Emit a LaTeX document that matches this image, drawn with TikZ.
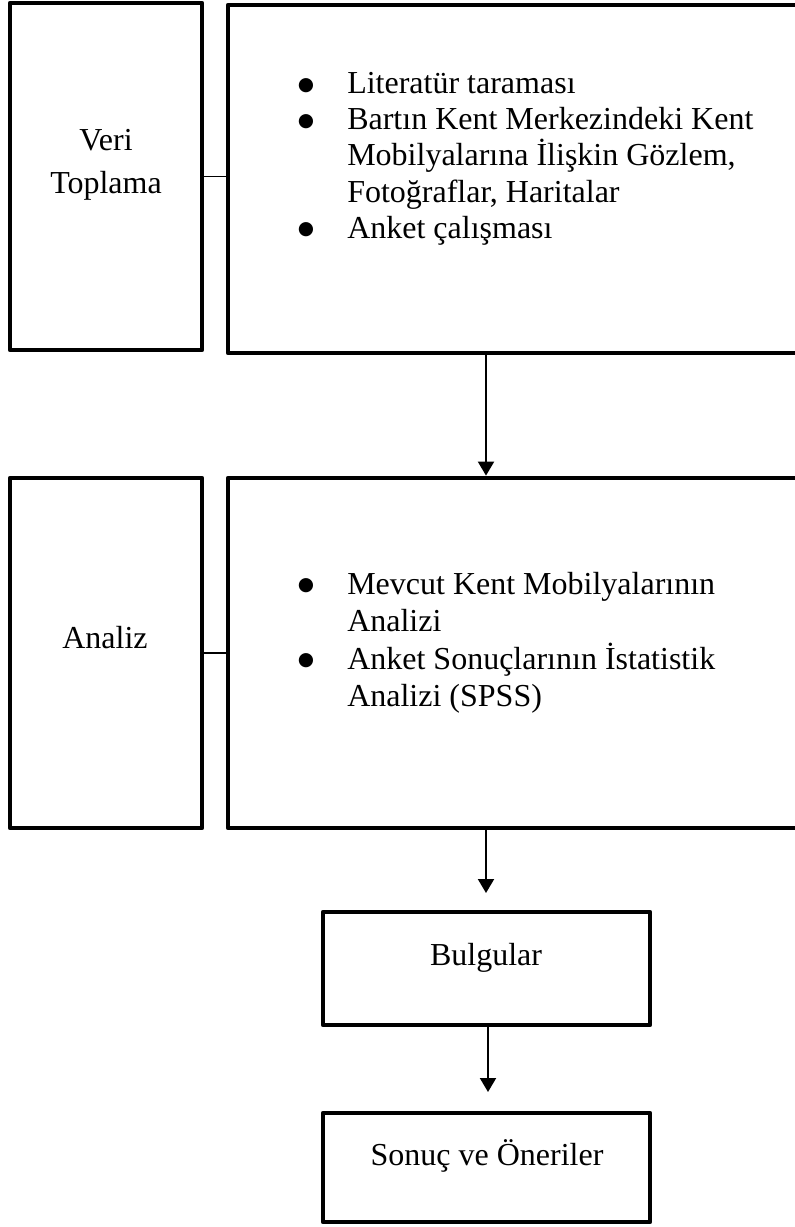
\documentclass[tikz,border=0pt]{standalone}
\usepackage{fontspec}
\setmainfont{Liberation Serif}
\newfontfamily\dotfont{DejaVu Sans}
\usetikzlibrary{arrows.meta,fit}
\begin{document}
\begin{tikzpicture}[x=0.75pt,y=-0.75pt,
  box/.style={draw, line width=3.6pt, line join=round, inner sep=0pt},
  link/.style={line width=1.1pt},
  flow/.style={line width=1.5pt, -{Triangle[length=10.5pt,width=12pt]}},
  txt/.style={font=\fontsize{24}{28}\selectfont, inner sep=0pt},
  item/.style={txt, anchor=base west},
  bul/.style={font=\dotfont\fontsize{14}{14}\selectfont, inner sep=0pt, anchor=center},
  ]
\useasboundingbox (0,0) rectangle (795,1227);
\clip (0,0) rectangle (795,1227);
% boxes
\node[box, fit={(10,3) (202,350)}] (vt) {};
\node[box, fit={(228,5) (830,353)}] (vtd) {};
\node[box, fit={(10,478) (202,828)}] (an) {};
\node[box, fit={(228,478) (830,828)}] (and) {};
\node[box, fit={(323,912) (650,1025)}] (bu) {};
\node[box, fit={(323,1113) (650,1222)}] (so) {};
% labels
\node[txt, anchor=base] (vt1) at (106,151) {Veri};
\node[txt, anchor=base] (vt2) at (106,194) {Toplama};
\node[txt, anchor=base] (an1) at (105,648) {Analiz};
\node[txt, anchor=base] (bu1) at (486,965) {Bulgular};
\node[txt, anchor=base] (so1) at (487,1165) {Sonuç ve Öneriler};
% box 2 items
\node[bul] (b1) at (306,86) {●};
\node[item] (l1) at (347,94) {Literatür taraması};
\node[bul] (b2) at (306,122) {●};
\node[item] (l2) at (347,130) {Bartın Kent Merkezindeki Kent};
\node[item] (l3) at (347,166) {Mobilyalarına İlişkin Gözlem,};
\node[item] (l4) at (347,202) {Fotoğraflar, Haritalar};
\node[bul] (b3) at (306,230) {●};
\node[item] (l5) at (347,238) {Anket çalışması};
% box 4 items
\node[bul] (b4) at (306,586) {●};
\node[item] (m1) at (347,594) {Mevcut Kent Mobilyalarının};
\node[item] (m2) at (347,631) {Analizi};
\node[bul] (b5) at (306,661) {●};
\node[item] (m3) at (347,669) {Anket Sonuçlarının İstatistik};
\node[item] (m4) at (347,706) {Analizi (SPSS)};
% connectors
\draw[link] (vt.east) -- (vt.east -| vtd.west);
\draw[link] (an.east) -- (an.east -| and.west);
\coordinate (c1) at (486,0);
\coordinate (c2) at (486,893);
\coordinate (c3) at (488,1092);
\draw[flow] (c1 |- vtd.south) -- (c1 |- and.north);
\draw[flow] (c2 |- and.south) -- (c2);
\draw[flow] (c3 |- bu.south) -- (c3);
\end{tikzpicture}
\end{document}
